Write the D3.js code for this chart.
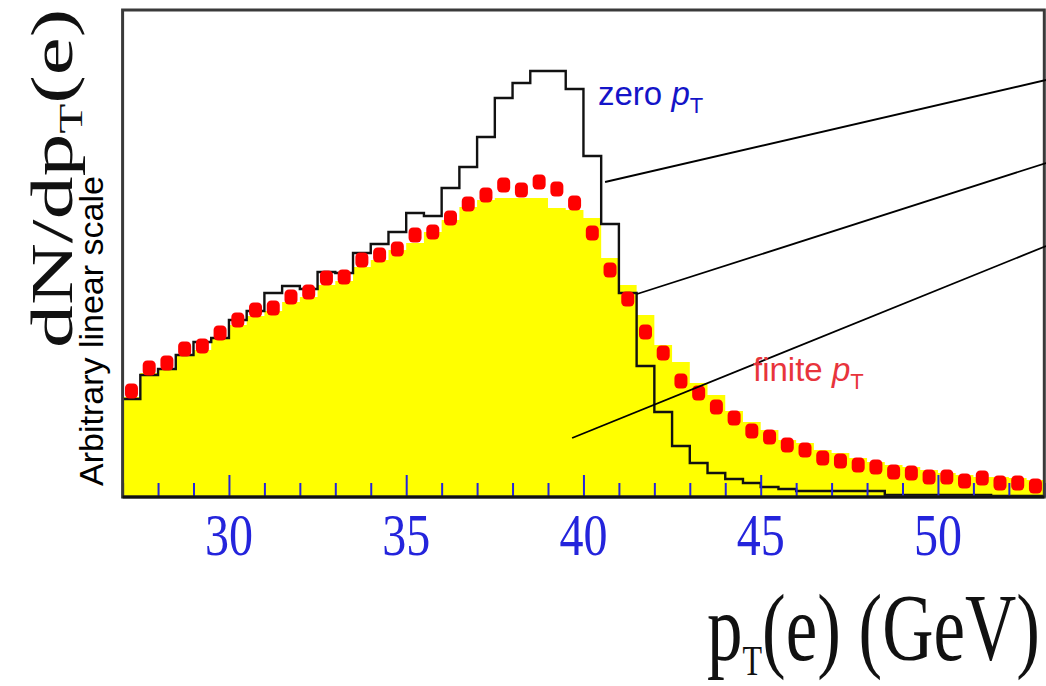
<!DOCTYPE html>
<html>
<head>
<meta charset="utf-8">
<script src="https://cdn.jsdelivr.net/npm/d3@7"></script>
<style>
  body { margin: 0; background: #fff; }
  svg { display: block; }
</style>
</head>
<body>
<div id="chart"></div>
<script>
// pT(e) histograms, 0.5 GeV bins, arbitrary linear units
const binStart = [
  27, 27.5, 28, 28.5, 29, 29.5, 30, 30.5, 31, 31.5, 32, 32.5, 33, 33.5, 34, 34.5,
  35, 35.5, 36, 36.5, 37, 37.5, 38, 38.5, 39, 39.5, 40, 40.5, 41, 41.5, 42, 42.5,
  43, 43.5, 44, 44.5, 45, 45.5, 46, 46.5, 47, 47.5, 48, 48.5, 49, 49.5, 50, 50.5,
  51, 51.5, 52, 52.5
];
const BIN_WIDTH = 0.5;

// black outline: zero pT
const zeroPt = [
  98, 122, 128, 142, 155, 159, 177, 186, 204, 211, 208, 225, 224, 244, 253, 265,
  284, 281, 309, 330, 360, 399, 414, 426, 426, 408, 341, 273, 204, 131, 85, 51,
  34, 24, 18, 14, 10, 8, 6, 6, 6, 6, 6, 2, 2, 2, 2, 2,
  2, 1, 1, 1
];

// yellow filled histogram: finite pT
const finitePtFill = [
  100, 124, 129, 142, 147, 158, 172, 181, 186, 195, 200, 212, 216, 230, 237, 247,
  254, 265, 277, 290, 297, 299, 299, 299, 289, 287, 279, 239, 212, 182, 152, 135,
  114, 102, 86, 75, 67, 57, 54, 47, 44, 39, 35, 32, 30, 27, 24, 22,
  20, 20, 19, 17
];

// red points: finite pT
const finitePtPoints = [
  106, 129, 134, 148, 151, 164, 177, 187, 189, 200, 205, 219, 220, 237, 242, 248,
  262, 265, 279, 293, 302, 312, 307, 315, 308, 294, 264, 227, 198, 165, 144, 116,
  104, 90, 79, 66, 60, 52, 47, 39, 36, 32, 30, 25, 24, 20, 20, 16,
  19, 14, 14, 11
];

const majorTicks = [30, 35, 40, 45, 50];
const minorTicks = [27, 28, 29, 31, 32, 33, 34, 36, 37, 38, 39, 41, 42, 43, 44,
                    46, 47, 48, 49, 51, 52, 53];

// pointer lines from the curves towards the right margin (data units)
const pointerLines = [
  { x1: 40.61, y1: 315, x2: 53.05, y2: 417 },
  { x1: 41.51, y1: 203, x2: 53.05, y2: 334 },
  { x1: 39.68, y1: 59,  x2: 53.05, y2: 251 }
];

const W = 1046, H = 686;
const BLUE = '#2424dc';

const svg = d3.select('#chart').append('svg')
  .attr('width', W)
  .attr('height', H);

svg.append('rect').attr('width', W).attr('height', H).attr('fill', '#fff');

const x = d3.scaleLinear().domain([27, 53]).range([122.6, 1044.3]);
const y = d3.scaleLinear().domain([0, 487]).range([497, 10]);

// step helpers: each bin gives a point at its start, plus closing point at 53
const stepPts = vals => binStart.map((b, i) => [b, vals[i]])
  .concat([[binStart[binStart.length - 1] + BIN_WIDTH, vals[vals.length - 1]]]);

const area = d3.area()
  .x(d => x(d[0]))
  .y0(y(0))
  .y1(d => y(d[1]))
  .curve(d3.curveStepAfter);

const line = d3.line()
  .x(d => x(d[0]))
  .y(d => y(d[1]))
  .curve(d3.curveStepAfter);

const plot = svg.append('g');

plot.append('path')
  .datum(stepPts(finitePtFill))
  .attr('d', area)
  .attr('fill', '#ffff00');

plot.append('path')
  .datum(stepPts(zeroPt))
  .attr('d', line)
  .attr('fill', 'none')
  .attr('stroke', '#111')
  .attr('stroke-width', 2.4);

// red markers (blocky, slightly taller than wide)
plot.append('g').selectAll('rect')
  .data(binStart.map((b, i) => ({ x: b + BIN_WIDTH / 2, v: finitePtPoints[i] })))
  .join('rect')
    .attr('x', d => x(d.x) - 6.5)
    .attr('y', d => y(d.v) - 7.5)
    .attr('width', 13)
    .attr('height', 15)
    .attr('rx', 4.5)
    .attr('fill', '#ff0000');

// ticks (drawn inward, blue)
const minorAxis = d3.axisBottom(x).tickValues(minorTicks).tickSize(-14).tickFormat('');
const majorAxis = d3.axisBottom(x).tickValues(majorTicks).tickSize(-22).tickFormat('');

[minorAxis, majorAxis].forEach(ax => {
  const g = svg.append('g')
    .attr('transform', `translate(0,${y(0)})`)
    .call(ax);
  g.select('.domain').remove();
  g.selectAll('.tick line')
    .attr('stroke', BLUE)
    .attr('stroke-width', 2);
});

// frame
svg.append('rect')
  .attr('x', x(27)).attr('y', y(487))
  .attr('width', x(53) - x(27)).attr('height', y(0) - y(487))
  .attr('fill', 'none')
  .attr('stroke', '#3a3a3a')
  .attr('stroke-width', 3);

svg.append('line')
  .attr('x1', x(27)).attr('x2', x(53))
  .attr('y1', y(0)).attr('y2', y(0))
  .attr('stroke', '#111')
  .attr('stroke-width', 3);

// tick labels: tall serif digits
svg.append('g').selectAll('text')
  .data(majorTicks)
  .join('text')
    .attr('transform', d => `translate(${x(d)},555) scale(1,1.23)`)
    .attr('text-anchor', 'middle')
    .attr('font-family', '"Liberation Serif", "DejaVu Serif", serif')
    .attr('font-size', 48)
    .attr('fill', BLUE)
    .text(d => d);

// pointer lines
svg.append('g').selectAll('line')
  .data(pointerLines)
  .join('line')
    .attr('x1', d => x(d.x1)).attr('y1', d => y(d.y1))
    .attr('x2', d => x(d.x2)).attr('y2', d => y(d.y2))
    .attr('stroke', '#000')
    .attr('stroke-width', 1.8);

// x axis title
const xt = svg.append('text')
  .attr('transform', 'translate(707,660) scale(1,1.35)')
  .attr('font-family', '"Liberation Serif", "DejaVu Serif", serif')
  .attr('font-size', 71)
  .attr('fill', '#111');
xt.append('tspan').text('p');
xt.append('tspan').attr('font-size', 32).attr('dy', 11).text('T');
xt.append('tspan').attr('dy', -11).text('(e) (GeV)');

// y axis title
const yt = svg.append('text')
  .attr('transform', 'translate(72,348) scale(1,1.43) rotate(-90)')
  .attr('font-family', '"Liberation Serif", "DejaVu Serif", serif')
  .attr('font-size', 60)
  .attr('fill', '#111');
yt.append('tspan').text('dN/dp');
yt.append('tspan').attr('font-size', 34).attr('dy', 10).text('T');
yt.append('tspan').attr('dy', -10).text('(e)');

svg.append('text')
  .attr('transform', 'translate(103,486) rotate(-90)')
  .attr('font-family', '"Liberation Sans", Arial, sans-serif')
  .attr('font-size', 34)
  .attr('fill', '#000')
  .text('Arbitrary linear scale');

// curve labels
const zl = svg.append('text')
  .attr('x', 598).attr('y', 105)
  .attr('font-family', '"Liberation Sans", Arial, sans-serif')
  .attr('font-size', 33)
  .attr('fill', '#1414c8');
zl.append('tspan').text('zero ');
zl.append('tspan').attr('font-style', 'italic').text('p');
zl.append('tspan').attr('font-size', 22).attr('dy', 8).text('T');

const fl = svg.append('text')
  .attr('x', 753).attr('y', 381)
  .attr('font-family', '"Liberation Sans", Arial, sans-serif')
  .attr('font-size', 33)
  .attr('fill', '#e8343c');
fl.append('tspan').text('finite ');
fl.append('tspan').attr('font-style', 'italic').text('p');
fl.append('tspan').attr('font-size', 22).attr('dy', 8).text('T');
</script>
</body>
</html>
